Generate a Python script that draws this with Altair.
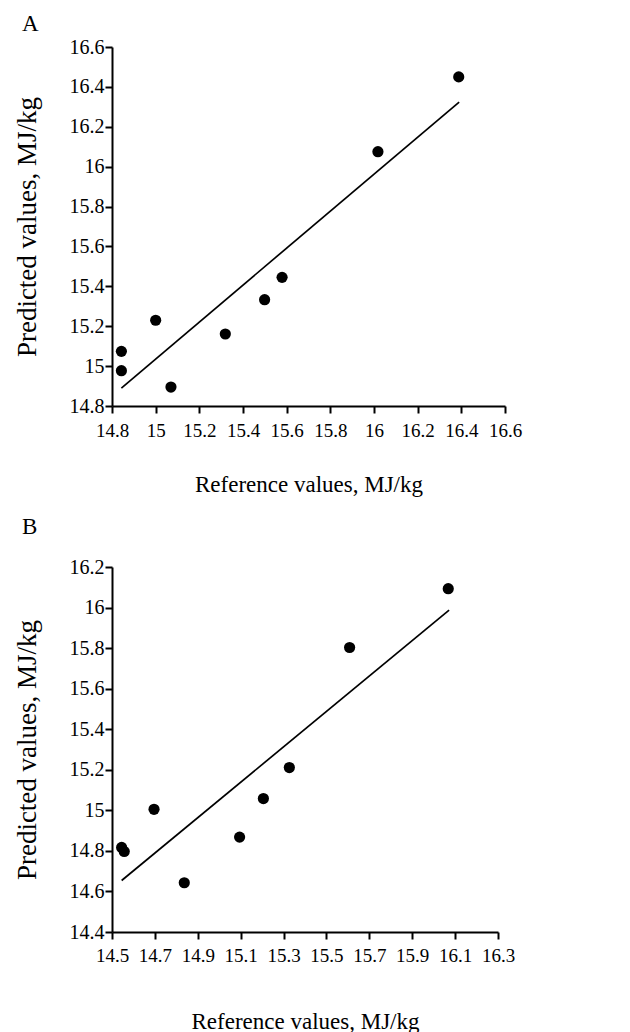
import altair as alt
import pandas as pd

# Panel A data
a_ref = [14.843, 14.843, 15.0, 15.07, 15.319, 15.499, 15.579, 16.018, 16.388]
a_pred = [15.074, 14.977, 15.23, 14.895, 15.161, 15.333, 15.445, 16.075, 16.45]
a_line_ref = [14.843, 16.39]
a_line_pred = [14.89, 16.324]
a_xticks = [14.8, 15.0, 15.2, 15.4, 15.6, 15.8, 16.0, 16.2, 16.4, 16.6]
a_yticks = [14.8, 15.0, 15.2, 15.4, 15.6, 15.8, 16.0, 16.2, 16.4, 16.6]

# Panel B data
b_ref = [14.545, 14.557, 14.696, 14.837, 15.095, 15.206, 15.327, 15.608, 16.068]
b_pred = [14.817, 14.797, 15.005, 14.643, 14.868, 15.058, 15.211, 15.803, 16.093]
b_line_ref = [14.545, 16.072]
b_line_pred = [14.654, 15.987]
b_xticks = [14.5, 14.7, 14.9, 15.1, 15.3, 15.5, 15.7, 15.9, 16.1, 16.3]
b_yticks = [14.4, 14.6, 14.8, 15.0, 15.2, 15.4, 15.6, 15.8, 16.0, 16.2]

FONT = "Liberation Serif"


def panel(ref, pred, lref, lpred, xticks, yticks, letter, w, h,
          title_offset, x_label_pad, x_title_pad):
    pts = pd.DataFrame({"ref": ref, "pred": pred})
    ln = pd.DataFrame({"ref": lref, "pred": lpred})
    x = alt.X("ref:Q",
              scale=alt.Scale(domain=[xticks[0], xticks[-1]], nice=False, zero=False),
              axis=alt.Axis(values=xticks, format=".1~f",
                            title="Reference values, MJ/kg",
                            labelPadding=x_label_pad, titlePadding=x_title_pad))
    y = alt.Y("pred:Q",
              scale=alt.Scale(domain=[yticks[0], yticks[-1]], nice=False, zero=False),
              axis=alt.Axis(values=yticks, format=".1~f",
                            title="Predicted values, MJ/kg"))
    line = alt.Chart(ln).mark_line(color="black", strokeWidth=1.7).encode(x=x, y=y)
    dots = alt.Chart(pts).mark_circle(color="black", size=125, opacity=1).encode(x=x, y=y)
    return alt.layer(line, dots).properties(
        width=w, height=h,
        title=alt.TitleParams(letter, anchor="start", dx=9, offset=title_offset,
                              fontSize=23, font=FONT, fontWeight="normal",
                              color="black"),
    )


chart_a = panel(a_ref, a_pred, a_line_ref, a_line_pred, a_xticks, a_yticks,
                "A", 393, 359, 1, 8, 33)
chart_b = panel(b_ref, b_pred, b_line_ref, b_line_pred, b_xticks, b_yticks,
                "B", 386, 365, 18, 7, 45)

chart = alt.vconcat(chart_a, chart_b, spacing=20).configure_view(
    stroke=None
).configure_axis(
    grid=False, domainColor="black", tickColor="black", domainWidth=2,
    tickWidth=2, tickSize=7, labelColor="black", titleColor="black",
    labelFont=FONT, titleFont=FONT, titleFontWeight="normal",
    labelFlush=False, labelOverlap=False,
).configure_axisX(
    labelFontSize=19, titleFontSize=23,
).configure_axisY(
    labelFontSize=20, titleFontSize=27, labelPadding=1, titlePadding=28,
)

chart.save("out.html", embed_options={"renderer": "svg", "actions": False})
